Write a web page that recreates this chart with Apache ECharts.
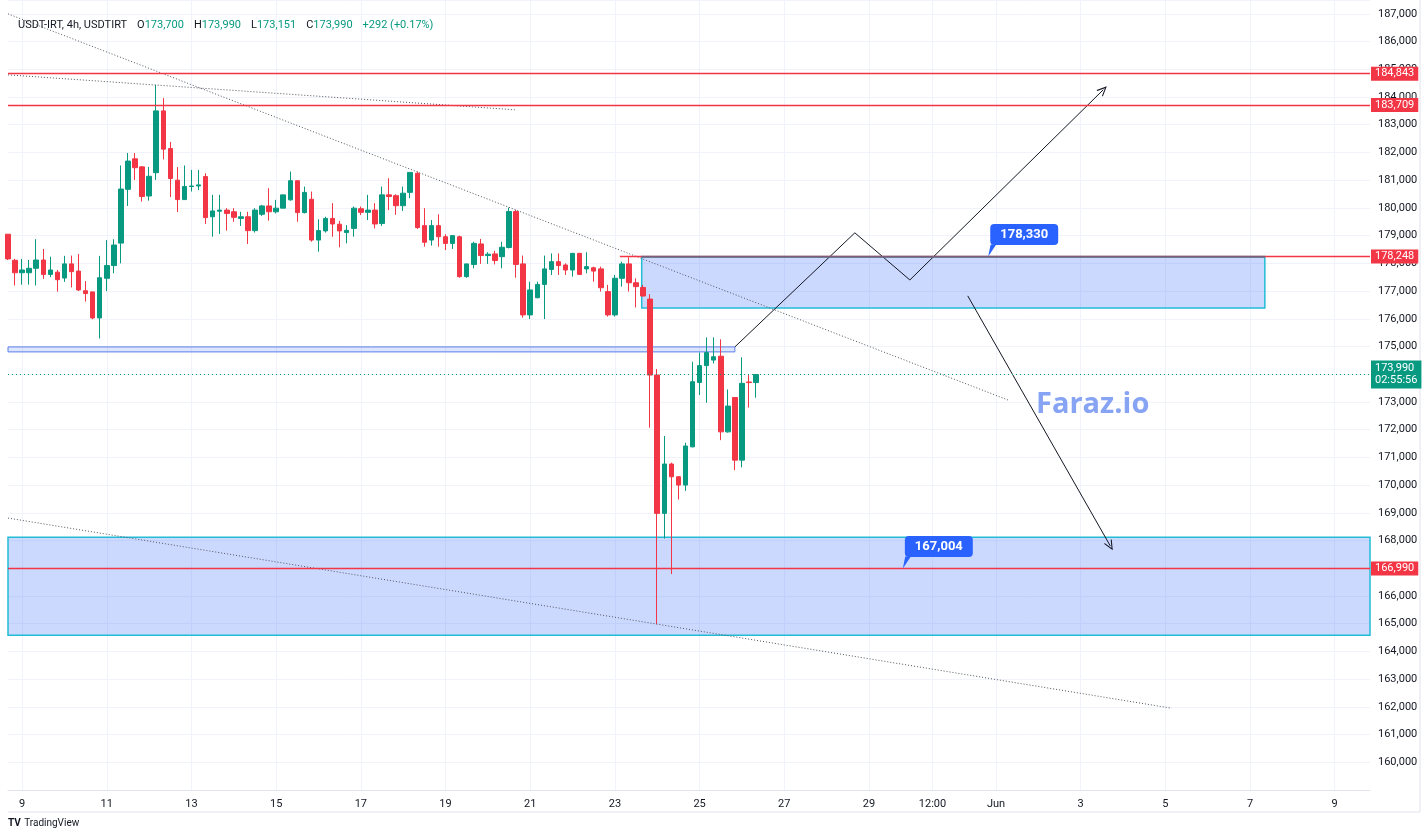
<!DOCTYPE html>
<html>
<head>
<meta charset="utf-8">
<title>USDT-IRT, 4h</title>
<script src="https://cdn.jsdelivr.net/npm/echarts@6/dist/echarts.min.js"></script>
<style>
  html, body { margin: 0; padding: 0; background: #fff; }
  #chart { width: 1428px; height: 837px; }
</style>
</head>
<body>
<div id="chart"></div>
<script>
// 4h candles (8 May 16:00 .. 26 May)
var candleOpen = [179050,178110,177660,177660,177820,178120,177600,177680,177470,177980,
  177720,177010,176970,176030,177460,177920,178730,180670,181770,181480,
  180430,181270,183500,182140,181000,180300,180770,180790,181130,179680,
  179880,179920,179860,179620,179680,179180,179770,180070,179860,179990,
  180290,180980,179830,180310,178840,179170,179620,179410,179110,179260,
  179970,179840,179920,179440,180470,180440,180080,180560,181250,179360,
  178840,179360,178960,178720,178960,177520,177960,178700,178280,178340,
  178240,178570,179870,177980,176140,176760,177240,177780,178060,177940,
  177760,178360,177800,177840,177800,176980,176140,177460,177980,177300,
  177130,176710,173970,168980,170760,170300,170000,171380,173700,174310,
  174510,174650,171920,173160,170900,173720,173700];
var candleClose = [178160,177660,177760,177820,178120,177600,177760,177410,177980,177700,
  177040,176910,176030,177480,177920,178660,180680,181690,181450,180410,
  181140,183500,182120,181060,180300,180770,180790,180830,179650,179890,
  179920,179800,179660,179680,179180,179920,180070,179860,179990,180470,
  180980,179830,180560,178840,179180,179620,179420,179170,179190,179990,
  179840,179920,179420,180470,180410,180080,180530,181280,179290,178760,
  179360,178960,178720,179000,177520,177980,178720,178280,178330,178100,
  178580,179870,177960,176140,177040,177240,177800,178060,177920,177760,
  178360,177600,177880,177720,177120,176140,177460,177980,177300,177160,
  176820,173970,168980,170760,170300,170000,171410,173730,174310,174780,
  174630,171920,172850,170900,173670,173698,173990];
var candleLow = [178120,177200,177230,177230,177200,177440,177500,176980,177330,177130,
  177000,176620,175980,175290,177000,177640,178000,180070,181010,180230,
  180260,181010,181750,180390,179850,180290,180590,180640,179420,178960,
  179060,179180,179500,179350,178700,179110,179710,179540,179800,179990,
  180260,179500,179800,178780,178420,179110,178960,178580,178720,178960,
  179740,179560,179260,179350,179920,179750,179890,180350,179240,178600,
  178640,178600,178480,178520,177480,177480,177820,177980,177980,177960,
  177820,178540,177480,176040,175990,176740,175990,177580,177580,177580,
  177520,177580,177640,177340,176980,176080,176080,177160,176980,176410,
  176800,172070,164980,168070,166790,169480,169790,171360,173250,172970,
  174390,171620,171890,170540,170640,172800,173151];
var candleHigh = [179050,178160,178160,178120,178870,178520,178240,177760,178270,178280,
  178340,177360,176970,178270,178840,178870,181530,181980,181980,181510,
  181480,184440,183960,182380,181470,181530,181370,181370,181250,180470,
  180470,179990,179990,179860,179860,179990,180110,180710,180290,180470,
  181310,180980,180770,180590,179590,179680,180170,179530,179380,180050,
  180050,180470,180170,180770,181070,180490,180770,181280,181310,179990,
  179560,179770,179050,179000,179000,177980,178780,178880,178400,178450,
  178780,180010,179930,178280,177340,177340,178280,178360,178360,178000,
  178360,178360,178400,177880,177880,177220,177580,178060,178220,177460,
  177220,176890,174190,171770,170810,170320,171530,174450,174780,175330,
  175330,175260,173450,173160,174610,173970,173990];

// time axis: 4h slots, with the day labels the chart shows
var slotCount = 194;
var dayTicks = [[2,'9'],[14,'11'],[26,'13'],[38,'15'],[50,'17'],[62,'19'],[74,'21'],[86,'23'],
  [98,'25'],[110,'27'],[122,'29'],[131,'12:00'],[140,'Jun'],[152,'3'],[164,'5'],[176,'7'],[188,'9']];

// drawings (x in slot units, y in price)
var levelLines = [184843, 183709, 166990];
var resistLevel = [86.7, 178248];
var lastPrice = 173990;
var trendTop = [[0, 187000], [141.7, 173070]];
var trendShort = [[0, 184800], [71.8, 183540]];
var trendBottom = [[0, 168810], [164.9, 161950]];
var pathUp = [[103.0, 174985], [120.0, 179100], [127.8, 177400], [155.2, 184260]];
var pathDown = [[136.0, 176825], [156.2, 167805]];
var zoneUpper = [[89.8, 178248], [178.1, 176386]];
var zoneThin = [[0, 174985], [103.0, 174805]];
var zoneLower = [[0, 168120], [193, 164580]];
var callouts = [[138.9, 178250, '178,330'], [126.8, 166990, '167,004']];

var FONT = 'Roboto, "Noto Sans", sans-serif';
var UP = '#089981', DOWN = '#f23645';

function fmt(v) { return Math.round(v).toLocaleString('en-US'); }

var slotNames = [], slotLabels = [];
for (var i = 0; i < slotCount; i++) { slotNames.push(String(i)); slotLabels.push(''); }
dayTicks.forEach(function (t) { slotLabels[t[0]] = t[1]; });
function isDay(idx) { return slotLabels[idx] !== ''; }

var candles = candleOpen.map(function (o, i) {
  return [o, candleClose[i], candleLow[i], candleHigh[i]];
});

var n = candleOpen.length - 1;
var chg = candleClose[n] - candleClose[n - 1];
var pct = (chg / candleClose[n - 1] * 100).toFixed(2);

var ARROW = 'path://M5,0 L10,10 L8.7,10 L5,2.6 L1.3,10 L0,10 Z';
function segs(pts, arrow) {
  var out = [];
  for (var k = 0; k < pts.length - 1; k++) {
    out.push([{ coord: pts[k], symbol: 'none' },
              { coord: pts[k + 1], symbol: (arrow && k === pts.length - 2) ? ARROW : 'none' }]);
  }
  return out;
}

var chart = echarts.init(document.getElementById('chart'));

var option = {
  animation: false,
  backgroundColor: '#ffffff',
  title: {
    left: 13, top: 11,
    text: '{n|USDT-IRT, 4h, USDTIRT}  {k|O}{v|' + fmt(candleOpen[n]) + '}  {k|H}{v|' + fmt(candleHigh[n]) +
      '}  {k|L}{v|' + fmt(candleLow[n]) + '}  {k|C}{v|' + fmt(candleClose[n]) + '}  {v|+' + chg + ' (+' + pct + '%)}',
    textStyle: {
      fontWeight: 'normal',
      rich: {
        n: { fontSize: 11, color: '#131722', fontWeight: 'normal', fontFamily: FONT },
        k: { fontSize: 11, color: '#131722', fontWeight: 'normal', fontFamily: FONT },
        v: { fontSize: 11, color: UP, fontWeight: 'normal', fontFamily: FONT }
      }
    }
  },
  grid: { left: 8, right: 58, top: 0, bottom: 47 },
  xAxis: [{
    type: 'category',
    data: slotNames,
    boundaryGap: false,
    axisLine: { lineStyle: { color: '#e0e3eb' } },
    axisTick: { show: false },
    axisLabel: {
      interval: function (idx) { return isDay(idx); },
      formatter: function (v, idx) { return slotLabels[idx]; },
      color: '#131722', fontSize: 11, fontFamily: FONT, margin: 9
    },
    splitLine: { show: true, interval: function (idx) { return isDay(idx); }, lineStyle: { color: '#f0f3fa' } }
  }, {
    type: 'value', min: 0, max: slotCount - 1, show: false
  }],
  yAxis: {
    type: 'value', position: 'right', scale: true,
    min: 159000, max: 187500, interval: 1000,
    axisLine: { show: false }, axisTick: { show: false },
    axisLabel: {
      showMinLabel: false, showMaxLabel: false,
      formatter: function (v) { return fmt(v); },
      color: '#131722', fontSize: 11, fontFamily: FONT, margin: 8
    },
    splitLine: { lineStyle: { color: '#f0f3fa' } }
  },
  graphic: [
    { type: 'line', silent: true, shape: { x1: 1420, y1: 0, x2: 1420, y2: 812 }, style: { stroke: '#e0e3eb' } },
    { type: 'line', silent: true, shape: { x1: 8, y1: 812, x2: 1420, y2: 812 }, style: { stroke: '#e0e3eb' } },
    { type: 'text', silent: true, left: 1036, top: 390, z: 1,
      style: { text: 'Faraz.io', fill: '#86a3f4', font: 'bold 29px "Open Sans", sans-serif' } },
    { type: 'text', silent: true, left: 8, top: 817,
      style: { text: '{l|TV} {t|TradingView}', rich: {
        l: { fontSize: 10, fontWeight: 'bold', fill: '#131722', fontFamily: FONT },
        t: { fontSize: 10, fill: '#131722', fontFamily: FONT } } } }
  ],
  series: [
    {
      type: 'line', xAxisIndex: 1, data: [], silent: true, z: 1,
      markArea: {
        silent: true,
        data: [
          [{ coord: zoneUpper[0], itemStyle: { color: 'rgba(41,98,255,0.24)', borderColor: '#22bcd6', borderWidth: 1.5 } }, { coord: zoneUpper[1] }],
          [{ coord: zoneThin[0], itemStyle: { color: 'rgba(41,98,255,0.16)', borderColor: '#5b7ee8', borderWidth: 1 } }, { coord: zoneThin[1] }],
          [{ coord: zoneLower[0], itemStyle: { color: 'rgba(41,98,255,0.24)', borderColor: '#22bcd6', borderWidth: 1.5 } }, { coord: zoneLower[1] }]
        ]
      }
    },
    {
      type: 'candlestick',
      data: candles,
      barWidth: 5,
      z: 3,
      itemStyle: { color: UP, color0: DOWN, borderColor: UP, borderColor0: DOWN, borderWidth: 1 }
    },
    { type: 'line', xAxisIndex: 1, data: trendTop, symbol: 'none', silent: true, z: 4,
      lineStyle: { color: '#50535e', width: 1, type: [1, 2] } },
    { type: 'line', xAxisIndex: 1, data: trendShort, symbol: 'none', silent: true, z: 4,
      lineStyle: { color: '#50535e', width: 1, type: [1, 2] } },
    { type: 'line', xAxisIndex: 1, data: trendBottom, symbol: 'none', silent: true, z: 4,
      lineStyle: { color: '#50535e', width: 1, type: [1, 2] } },
    {
      type: 'line', xAxisIndex: 1, data: [], silent: true, z: 5,
      markLine: {
        silent: true, animation: false,
        symbolSize: [9, 10],
        lineStyle: { color: '#131722', width: 1, type: 'solid' },
        label: { show: false },
        data: segs(pathUp, true).concat(segs(pathDown, true))
      }
    },
    {
      type: 'line', xAxisIndex: 1, data: [], silent: true, z: 6,
      markLine: {
        silent: true, animation: false,
        symbol: ['none', 'none'],
        lineStyle: { color: DOWN, width: 1.3, type: 'solid', opacity: 1 },
        label: {
          show: true, position: 'end', distance: 1, formatter: '{b}',
          color: '#fff', backgroundColor: DOWN, padding: [2, 4, 1, 4],
          fontSize: 11, fontFamily: FONT
        },
        data: levelLines.map(function (v) { return { yAxis: v, name: fmt(v) }; }).concat([
          [{ coord: resistLevel, name: fmt(resistLevel[1]) }, { coord: [slotCount - 1, resistLevel[1]] }],
          [{ coord: [zoneUpper[0][0], zoneUpper[0][1]], name: '', lineStyle: { color: '#5a6b87', width: 1.5 }, label: { show: false } },
           { coord: [zoneUpper[1][0], zoneUpper[0][1]] }]
        ])
      }
    },
    {
      type: 'line', xAxisIndex: 1, data: [], silent: true, z: 6,
      markLine: {
        silent: true, animation: false,
        symbol: ['none', 'none'],
        lineStyle: { color: UP, width: 1, type: [1, 3] },
        label: {
          show: true, position: 'end', distance: 1,
          formatter: fmt(lastPrice) + '\n02:55:56',
          color: '#fff', backgroundColor: UP, padding: [2, 4, 2, 4],
          fontSize: 11, lineHeight: 12, fontFamily: FONT
        },
        data: [{ yAxis: lastPrice }]
      }
    },
    {
      type: 'line', xAxisIndex: 1, data: [], silent: true, z: 7,
      markPoint: {
        silent: true, animation: false,
        symbol: 'path://M0,12 L3,0 L10,0 Z',
        symbolSize: [8, 12],
        symbolOffset: [4, -6],
        itemStyle: { color: '#2962ff' },
        label: {
          show: true, position: 'inside', offset: [32, -16], formatter: '{b}',
          color: '#fff', backgroundColor: '#2962ff', borderRadius: 4,
          padding: [4, 10, 4, 10], fontSize: 13, fontWeight: 'bold', fontFamily: FONT
        },
        data: callouts.map(function (c) { return { coord: [c[0], c[1]], name: c[2] }; })
      }
    }
  ]
};

chart.setOption(option);
</script>
</body>
</html>
